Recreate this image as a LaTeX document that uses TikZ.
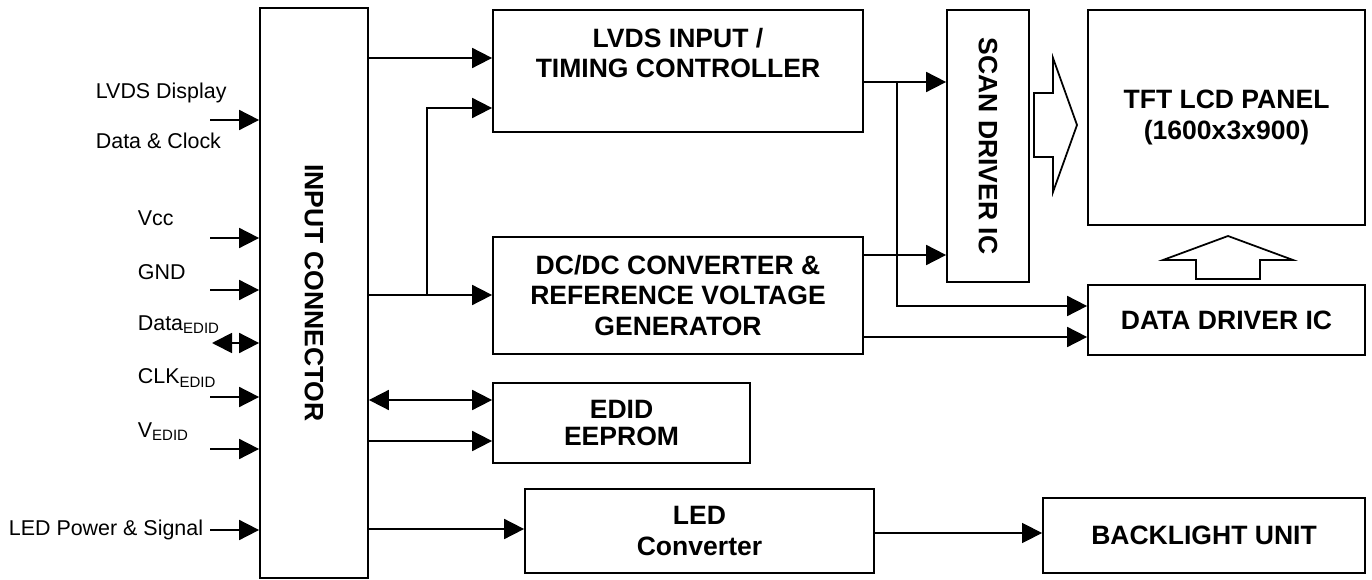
\documentclass[tikz,border=0pt]{standalone}
\usepackage{fontspec}
\setmainfont{Liberation Sans}
\usetikzlibrary{arrows.meta}
\begin{document}
\begin{tikzpicture}[x=0.2mm,y=-0.2mm,line width=1pt,
  every node/.style={font=\fontsize{12.2}{14}\selectfont},
  blk/.style={draw,line width=1pt,inner sep=0pt},
  bold/.style={font=\fontsize{15.1}{17.6}\selectfont\bfseries,align=center},
  pin/.style={anchor=west,inner sep=0pt},
  arr/.style={-{Triangle[length=4mm,width=4mm]}},
  dbl/.style={{Triangle[length=4mm,width=4mm]}-{Triangle[length=4mm,width=4mm]}}]
\path[fill=white] (0,0) rectangle (1372,580);
% blocks
\node[blk,minimum width=21.6mm,minimum height=114mm] (conn) at (314,293) {};
\node[bold,rotate=-90] (connlbl) at (conn) {INPUT CONNECTOR};
\node[blk,minimum width=74mm,minimum height=24.4mm] (lvds) at (678,71) {};
\node[bold] (lvdslbl) at (678,53) {LVDS INPUT /\\TIMING CONTROLLER};
\node[blk,bold,minimum width=74mm,minimum height=23.4mm] (dc) at (678,295.5) {DC/DC CONVERTER \&\\REFERENCE VOLTAGE\\GENERATOR};
\node[blk,bold,font=\fontsize{15.1}{15.4}\selectfont\bfseries,minimum width=51.4mm,minimum height=16mm] (edid) at (621.5,423) {EDID\\EEPROM};
\node[blk,bold,minimum width=69.8mm,minimum height=16.8mm] (led) at (699.5,531) {LED\\Converter};
\node[blk,bold,minimum width=64.4mm,minimum height=15mm] (bl) at (1204,535.5) {BACKLIGHT UNIT};
\node[blk,minimum width=16.4mm,minimum height=54.4mm] (scan) at (988,146) {};
\node[bold,rotate=-90] (scanlbl) at (scan) {SCAN DRIVER IC};
\node[blk,bold,minimum width=55.4mm,minimum height=43mm] (tft) at (1226.5,117.5) {TFT LCD PANEL\\(1600x3x900)};
\node[blk,bold,minimum width=55.4mm,minimum height=14mm] (dd) at (1226.5,320) {DATA DRIVER IC};
% signals into the connector
\node[pin] (lvdsin) at (95,93) {LVDS Display};
\node[pin] (clkin) at (95,141) {Data \& Clock};
\node[pin] (vcc) at (137,218) {Vcc};
\node[pin] (gnd) at (137,272) {GND};
\node[pin] (dataedid) at (137,325) {Data\textsubscript{EDID}};
\node[pin] (clkedid) at (137,378) {CLK\textsubscript{EDID}};
\node[pin] (vedid) at (137,432) {V\textsubscript{EDID}};
\node[pin] (ledpwr) at (8,530) {LED Power \& Signal};
\foreach \yy/\nm in {120/pa,238/pb,290/pc,397/pe,449/pf,530/pg} {
  \coordinate (\nm) at (210,\yy); \draw[arr] (\nm) -- (conn.west|-\nm); }
\coordinate (pd) at (212,343); \draw[dbl] (pd) -- (conn.west|-pd);
% connector outputs
\coordinate (j1) at (427,295); \coordinate (j2) at (897,82);
\draw[arr] (conn.east|-0,58) -- (lvds.west|-0,58);
\draw[arr] (conn.east|-j1) -- (dc.west|-j1);
\draw[arr] (j1) |- (lvds.west|-0,108);
\draw[dbl] (conn.east|-0,400) -- (edid.west|-0,400);
\draw[arr] (conn.east|-0,441) -- (edid.west|-0,441);
\draw[arr] (conn.east|-0,529) -- (led.west|-0,529);
\draw[arr,line width=0.6pt] (led.east|-0,533) -- (bl.west|-0,533);
% drivers
\draw[arr] (lvds.east|-j2) -- (scan.west|-j2);
\draw[arr] (j2) |- (dd.west|-0,306);
\draw[arr] (dc.east|-0,255) -- (scan.west|-0,255);
\draw[arr] (dc.east|-0,337) -- (dd.west|-0,337);
% hollow arrows into the panel
\draw (1034,93) -- (1053,93) -- (1053,58) -- (1077,125) -- (1053,192) -- (1053,157) -- (1034,157) -- cycle;
\draw (1196,279) -- (1196,260) -- (1163,260) -- (1228,236) -- (1293,260) -- (1260,260) -- (1260,279) -- cycle;
\end{tikzpicture}
\end{document}
